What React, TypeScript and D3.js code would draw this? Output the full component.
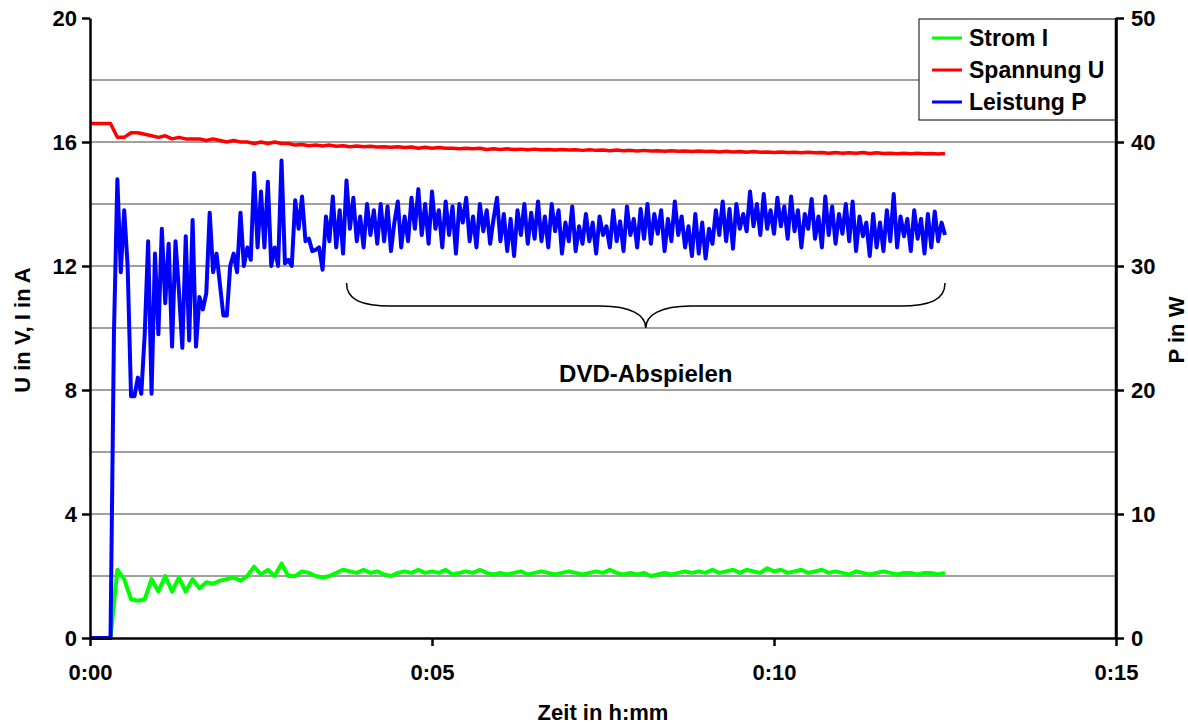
import React, { useEffect, useRef } from 'react';
import { select, scaleLinear, line, axisBottom, axisLeft, axisRight } from 'd3';

// time axis in minutes, samples every stepUI / stepP minutes
const stepUI = 0.1;
const stepP = 0.05;

const timeTicks = [0, 5, 10, 15];
const leftTicks = [0, 4, 8, 12, 16, 20];
const rightTicks = [0, 10, 20, 30, 40, 50];
const gridValues = [2, 4, 6, 8, 10, 12, 14, 16, 18];

const seriesNames = ['Strom I', 'Spannung U', 'Leistung P'];
const seriesColors = ['#00ff00', '#ff0000', '#0000ff'];

const strom = [
  0, 0, 0, 0, 2.2, 1.9, 1.25, 1.2, 1.25, 1.9,
  1.5, 2.0, 1.5, 1.95, 1.5, 1.9, 1.6, 1.8, 1.75, 1.85,
  1.9, 1.95, 1.85, 2.0, 2.3, 2.05, 2.2, 2.0, 2.4, 2.0,
  2.0, 2.15, 2.1, 2.0, 1.95, 2.0, 2.1, 2.2, 2.15, 2.1,
  2.2, 2.1, 2.15, 2.05, 2.0, 2.1, 2.15, 2.1, 2.2, 2.1,
  2.15, 2.1, 2.2, 2.05, 2.1, 2.15, 2.1, 2.2, 2.1, 2.05,
  2.1, 2.05, 2.1, 2.15, 2.05, 2.1, 2.15, 2.1, 2.05, 2.1,
  2.15, 2.1, 2.05, 2.1, 2.15, 2.1, 2.2, 2.1, 2.05, 2.1,
  2.05, 2.1, 2.0, 2.05, 2.1, 2.05, 2.1, 2.15, 2.1, 2.15,
  2.1, 2.2, 2.1, 2.15, 2.2, 2.1, 2.2, 2.15, 2.1, 2.25,
  2.15, 2.2, 2.1, 2.15, 2.2, 2.1, 2.15, 2.2, 2.1, 2.15,
  2.1, 2.05, 2.15, 2.1, 2.05, 2.1, 2.15, 2.1, 2.05, 2.1,
  2.1, 2.05, 2.1, 2.1, 2.05, 2.1,
];

const spannung = [
  16.6, 16.6, 16.6, 16.6, 16.15, 16.15, 16.3, 16.3, 16.25, 16.2,
  16.15, 16.2, 16.1, 16.15, 16.1, 16.1, 16.1, 16.05, 16.1, 16.05,
  16.0, 16.05, 16.0, 16.0, 15.95, 16.0, 15.95, 16.0, 15.95, 15.95,
  15.9, 15.92, 15.88, 15.9, 15.87, 15.9, 15.86, 15.88, 15.85, 15.87,
  15.85, 15.86, 15.84, 15.85, 15.83, 15.85, 15.82, 15.84, 15.8, 15.83,
  15.8, 15.82, 15.8, 15.8, 15.78, 15.8, 15.78, 15.8, 15.76, 15.78,
  15.76, 15.78, 15.76, 15.77, 15.75, 15.77, 15.75, 15.76, 15.74, 15.76,
  15.74, 15.75, 15.73, 15.75, 15.73, 15.74, 15.72, 15.74, 15.72, 15.73,
  15.71, 15.73, 15.71, 15.72, 15.7, 15.72, 15.7, 15.71, 15.69, 15.71,
  15.69, 15.7, 15.68, 15.7, 15.68, 15.69, 15.67, 15.69, 15.67, 15.68,
  15.66, 15.68, 15.66, 15.67, 15.65, 15.67, 15.65, 15.66, 15.64, 15.66,
  15.64, 15.65, 15.64, 15.66, 15.63, 15.65, 15.63, 15.64, 15.62, 15.64,
  15.62, 15.64, 15.62, 15.63, 15.61, 15.63,
];

const leistung = [
  0, 0, 0, 0, 0, 0, 0,
  24.5, 37, 29.5, 34.5, 30, 19.5, 19.5, 21, 19.7, 24.5,
  32, 19.7, 31, 24.5, 33, 27, 31.8, 23.5, 32, 28,
  23.4, 32.4, 24, 33.7, 23.5, 27.5, 26.5, 27.8, 34.3, 29.5,
  31, 28.5, 26, 26, 30, 31, 29.5, 34.3, 30, 31.5,
  30.5, 37.5, 31.5, 36, 31.5, 36.8, 30, 31.5, 30, 38.5,
  30.2, 30.5, 30, 35.3, 33, 35.6, 32, 32.2, 31.2, 31.3,
  31.5, 29.7, 34, 32, 35.6, 31.5,
  34.5, 31, 36.9, 33, 35.5, 32, 34, 31.5, 35, 32.5,
  34.5, 31.8, 35, 32, 34.8, 31.2, 33.5, 35.2, 31.5, 34,
  32, 35.5, 33, 36.2, 32.5, 35, 31.8, 36, 33, 34.5,
  31.5, 35.2, 32.5, 34.8, 31, 35, 33.5, 35.5, 32, 34,
  31.5, 35, 32.8, 34.5, 31.8, 33.8, 35.5, 32, 34.2, 31.2,
  33.8, 30.8, 34.5, 32.5, 35, 31.8, 34.3, 32.2, 35.2, 32,
  34, 31.5, 35, 32.8, 34.5, 31, 33.5, 32, 34.8, 31.2,
  33.2, 31.8, 34.2, 32, 33.5, 31, 34, 32.5, 33.2, 31.5,
  34.5, 32, 33.6, 31.2, 34.8, 32.5, 33.8, 31.5, 34.6, 32.2,
  35, 31.8, 34.2, 32.6, 34.5, 31.2, 33.8, 32, 35.2, 32.5,
  34, 31.5, 33.2, 30.8, 34.2, 31, 33.5, 30.6, 33, 31.8,
  34.5, 32.5, 35.2, 32, 34.6, 31.4, 35, 33, 34.2, 32.8,
  36, 33.2, 35, 32.5, 35.8, 33, 34.5, 32.6, 35.5, 33.2,
  34.8, 32.2, 35.6, 32.8, 34.5, 31.5, 34.2, 33, 35.4, 32.2,
  34, 31.5, 35.6, 32.5, 34.8, 31.8, 34.2, 32.6, 35, 32,
  35.2, 31.2, 34, 32.4, 33.5, 30.8, 34.2, 31.5, 33.5, 31.2,
  34.5, 32, 35.8, 31.5, 34, 32.4, 33.8, 31.2, 34.5, 32.2,
  33.8, 31, 34.2, 31.5, 34.4, 32, 33.5, 32.5,
];

const FONT = '"Liberation Sans", Arial, sans-serif';

export default function App() {
  const ref = useRef<SVGSVGElement>(null);

  useEffect(() => {
    const svg = select(ref.current);
    svg.selectAll('*').remove();

    const left = 90, right = 1116, top = 18, bottom = 638;

    const x = scaleLinear().domain([0, 15]).range([left, right]);
    const yL = scaleLinear().domain([0, 20]).range([bottom, top]);
    const yR = scaleLinear().domain([0, 50]).range([bottom, top]);

    // gridlines
    svg.append('g')
      .selectAll('line')
      .data(gridValues)
      .enter()
      .append('line')
      .attr('x1', left)
      .attr('x2', right)
      .attr('y1', d => yL(d))
      .attr('y2', d => yL(d))
      .attr('stroke', '#404040')
      .attr('stroke-width', 1);

    const lineUI = line<number>()
      .x((d, i) => x(i * stepUI))
      .y(d => yL(d));
    const lineP = line<number>()
      .x((d, i) => x(i * stepP))
      .y(d => yR(d));

    svg.append('path')
      .datum(strom)
      .attr('d', lineUI)
      .attr('fill', 'none')
      .attr('stroke', seriesColors[0])
      .attr('stroke-width', 4)
      .attr('stroke-linejoin', 'round');

    svg.append('path')
      .datum(spannung)
      .attr('d', lineUI)
      .attr('fill', 'none')
      .attr('stroke', seriesColors[1])
      .attr('stroke-width', 3.5)
      .attr('stroke-linejoin', 'round');

    svg.append('path')
      .datum(leistung)
      .attr('d', lineP)
      .attr('fill', 'none')
      .attr('stroke', seriesColors[2])
      .attr('stroke-width', 4)
      .attr('stroke-linejoin', 'round');

    const styleAxis = g => {
      g.select('.domain').attr('stroke', '#000').attr('stroke-width', 2.5);
      g.selectAll('.tick line').attr('stroke', '#000').attr('stroke-width', 2.5);
      g.selectAll('.tick text')
        .attr('font-family', FONT)
        .attr('font-weight', 'bold')
        .attr('font-size', 22)
        .attr('fill', '#000');
    };

    svg.append('g')
      .attr('transform', `translate(0,${bottom})`)
      .call(axisBottom(x).tickValues(timeTicks).tickSize(8).tickSizeOuter(0).tickPadding(18)
        .tickFormat(d => `0:${String(d).padStart(2, '0')}`))
      .call(styleAxis);

    svg.append('g')
      .attr('transform', `translate(${left},0)`)
      .call(axisLeft(yL).tickValues(leftTicks).tickSize(8).tickSizeOuter(0).tickPadding(5))
      .call(styleAxis);

    svg.append('g')
      .attr('transform', `translate(${right},0)`)
      .call(axisRight(yR).tickValues(rightTicks).tickSize(8).tickSizeOuter(0).tickPadding(7))
      .call(styleAxis);

    // axis titles
    svg.append('text')
      .attr('x', (left + right) / 2)
      .attr('y', 720)
      .attr('text-anchor', 'middle')
      .attr('font-family', FONT)
      .attr('font-weight', 'bold')
      .attr('font-size', 22)
      .text('Zeit in h:mm');

    svg.append('text')
      .attr('transform', 'translate(30,330) rotate(-90)')
      .attr('text-anchor', 'middle')
      .attr('font-family', FONT)
      .attr('font-weight', 'bold')
      .attr('font-size', 22)
      .text('U in V, I in A');

    svg.append('text')
      .attr('transform', 'translate(1184,330) rotate(-90)')
      .attr('text-anchor', 'middle')
      .attr('font-family', FONT)
      .attr('font-weight', 'bold')
      .attr('font-size', 22)
      .text('P in W');

    // brace over the DVD phase
    const bx0 = x(3.75), bx1 = x(12.5), bm = (bx0 + bx1) / 2;
    const by0 = 283, by1 = 306, byTip = yL(10);
    svg.append('path')
      .attr('d', `M${bx0},${by0} C${bx0},${by1 - 6} ${bx0 + 15},${by1} ${bx0 + 45},${by1}
        L${bm - 45},${by1} C${bm - 15},${by1} ${bm},${by1 + 9} ${bm},${byTip}
        C${bm},${by1 + 9} ${bm + 15},${by1} ${bm + 45},${by1}
        L${bx1 - 45},${by1} C${bx1 - 15},${by1} ${bx1},${by1 - 6} ${bx1},${by0}`)
      .attr('fill', 'none')
      .attr('stroke', '#000')
      .attr('stroke-width', 1.5);

    svg.append('text')
      .attr('x', bm)
      .attr('y', 382)
      .attr('text-anchor', 'middle')
      .attr('font-family', FONT)
      .attr('font-weight', 'bold')
      .attr('font-size', 24)
      .text('DVD-Abspielen');

    // legend
    const lg = svg.append('g');
    lg.append('rect')
      .attr('x', 919)
      .attr('y', 19)
      .attr('width', right - 919)
      .attr('height', 101)
      .attr('fill', '#fff')
      .attr('stroke', '#000')
      .attr('stroke-width', 1);
    seriesNames.forEach((name, i) => {
      const cy = 38 + i * 32;
      lg.append('line')
        .attr('x1', 932)
        .attr('x2', 962)
        .attr('y1', cy)
        .attr('y2', cy)
        .attr('stroke', seriesColors[i])
        .attr('stroke-width', 3);
      lg.append('text')
        .attr('x', 969)
        .attr('y', cy)
        .attr('dy', '0.36em')
        .attr('font-family', FONT)
        .attr('font-weight', 'bold')
        .attr('font-size', 23)
        .text(name);
    });
    // redraw right axis line over legend edge
    svg.append('line')
      .attr('x1', right).attr('x2', right)
      .attr('y1', top).attr('y2', bottom)
      .attr('stroke', '#000').attr('stroke-width', 2.5);
  }, []);

  return (
    <svg
      ref={ref}
      width={1188}
      height={724}
      style={{ position: 'absolute', left: 0, top: 0, background: '#fff' }}
    />
  );
}
